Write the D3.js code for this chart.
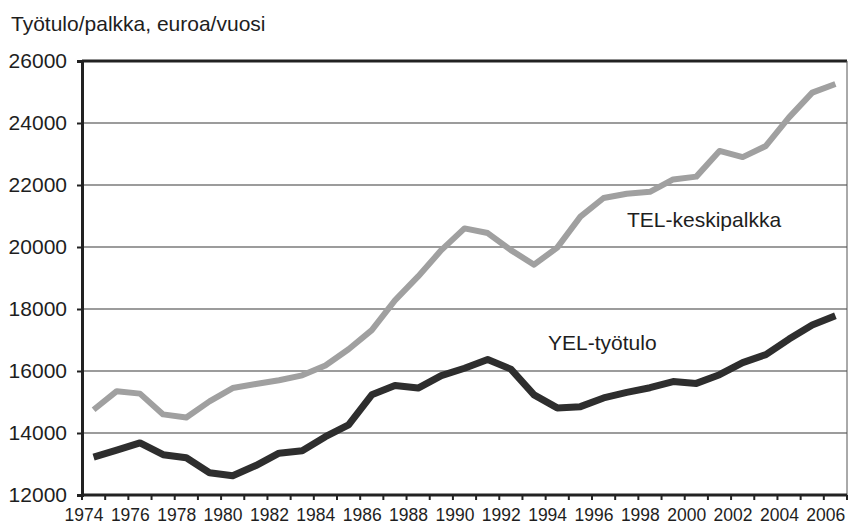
<!DOCTYPE html>
<html>
<head>
<meta charset="utf-8">
<script src="https://cdn.jsdelivr.net/npm/d3@7"></script>
<style>
  body { margin: 0; background: #fff; }
  svg text { font-family: "Liberation Sans", Arial, sans-serif; fill: #1e1e1e; }
</style>
</head>
<body>
<div class="line-chart"></div>
<script>
// Data
const years = d3.range(1974, 2007);
const telValues = [14750, 15350, 15270, 14600, 14500, 15020, 15450, 15580, 15700, 15860,
  16180, 16700, 17320, 18280, 19050, 19900, 20600, 20450, 19900, 19430, 19980, 20980,
  21580, 21720, 21780, 22180, 22270, 23100, 22900, 23260, 24180, 24980, 25260];
const yelValues = [13220, 13450, 13680, 13300, 13200, 12720, 12620, 12950, 13350, 13430,
  13880, 14260, 15230, 15530, 15450, 15850, 16090, 16370, 16060, 15230, 14810, 14850,
  15130, 15310, 15460, 15660, 15600, 15880, 16270, 16530, 17030, 17480, 17780];
const yTicks = [12000, 14000, 16000, 18000, 20000, 22000, 24000, 26000];
const xLabelYears = years.filter(y => y % 2 === 0);

// Setup
const width = 848, height = 526;
const plotLeft = 82, plotRight = 847, plotTop = 61, plotBottom = 495;

const svg = d3.select(".line-chart")
  .append("svg")
  .attr("width", width)
  .attr("height", height);

const x = d3.scaleBand().domain(years).range([plotLeft, plotRight]).padding(0);
const y = d3.scaleLinear().domain([12000, 26000]).range([plotBottom, plotTop]);
const cx = d => x(d) + x.bandwidth() / 2;

// gridlines
svg.append("g")
  .selectAll("line")
  .data(yTicks.slice(1, -1))
  .enter()
  .append("line")
  .attr("x1", plotLeft).attr("x2", plotRight)
  .attr("y1", d => y(d)).attr("y2", d => y(d))
  .attr("stroke", "#3a3a3a")
  .attr("stroke-width", 1.2);

// frame: thick top, thin right
svg.append("line")
  .attr("x1", plotLeft).attr("x2", plotRight).attr("y1", plotTop).attr("y2", plotTop)
  .attr("stroke", "#222").attr("stroke-width", 3);
svg.append("line")
  .attr("x1", plotRight).attr("x2", plotRight).attr("y1", plotTop).attr("y2", plotBottom)
  .attr("stroke", "#555").attr("stroke-width", 1);

// y axis
const yAxis = svg.append("g")
  .attr("transform", `translate(${plotLeft},0)`)
  .call(d3.axisLeft(y).tickValues(yTicks).tickSize(5).tickPadding(10).tickFormat(d3.format("d")));
yAxis.select(".domain").attr("stroke", "#222").attr("stroke-width", 3);
yAxis.selectAll(".tick line").attr("stroke", "#222").attr("stroke-width", 2);
yAxis.selectAll("text").style("font-size", "21px");

// x axis
svg.append("line")
  .attr("x1", plotLeft - 1).attr("x2", plotRight).attr("y1", plotBottom).attr("y2", plotBottom)
  .attr("stroke", "#222").attr("stroke-width", 3);
svg.append("g")
  .selectAll("line")
  .data(years.concat([2007]))
  .enter()
  .append("line")
  .attr("x1", d => plotLeft + (d - 1974) * x.bandwidth())
  .attr("x2", d => plotLeft + (d - 1974) * x.bandwidth())
  .attr("y1", plotBottom).attr("y2", plotBottom + 5)
  .attr("stroke", "#222").attr("stroke-width", 2);

svg.append("g")
  .selectAll("text")
  .data(xLabelYears)
  .enter()
  .append("text")
  .attr("x", d => x(d) + 2)
  .attr("y", 521)
  .attr("text-anchor", "middle")
  .style("font-size", "17.5px")
  .text(d => d);

// lines
const line = d3.line().x(d => cx(d[0])).y(d => y(d[1]));

svg.append("path")
  .datum(years.map((yr, i) => [yr, telValues[i]]))
  .attr("d", line)
  .attr("fill", "none")
  .attr("stroke", "#a0a0a0")
  .attr("stroke-width", 6)
  .attr("stroke-linejoin", "round");

svg.append("path")
  .datum(years.map((yr, i) => [yr, yelValues[i]]))
  .attr("d", line)
  .attr("fill", "none")
  .attr("stroke", "#2e2e2e")
  .attr("stroke-width", 7)
  .attr("stroke-linejoin", "round");

// labels
svg.append("text")
  .attr("x", 11).attr("y", 31)
  .style("font-size", "21px")
  .text("Työtulo/palkka, euroa/vuosi");

svg.append("text")
  .attr("x", 627).attr("y", 227)
  .style("font-size", "21px")
  .text("TEL-keskipalkka");

svg.append("text")
  .attr("x", 548).attr("y", 350)
  .style("font-size", "21px")
  .text("YEL-työtulo");
</script>
</body>
</html>
